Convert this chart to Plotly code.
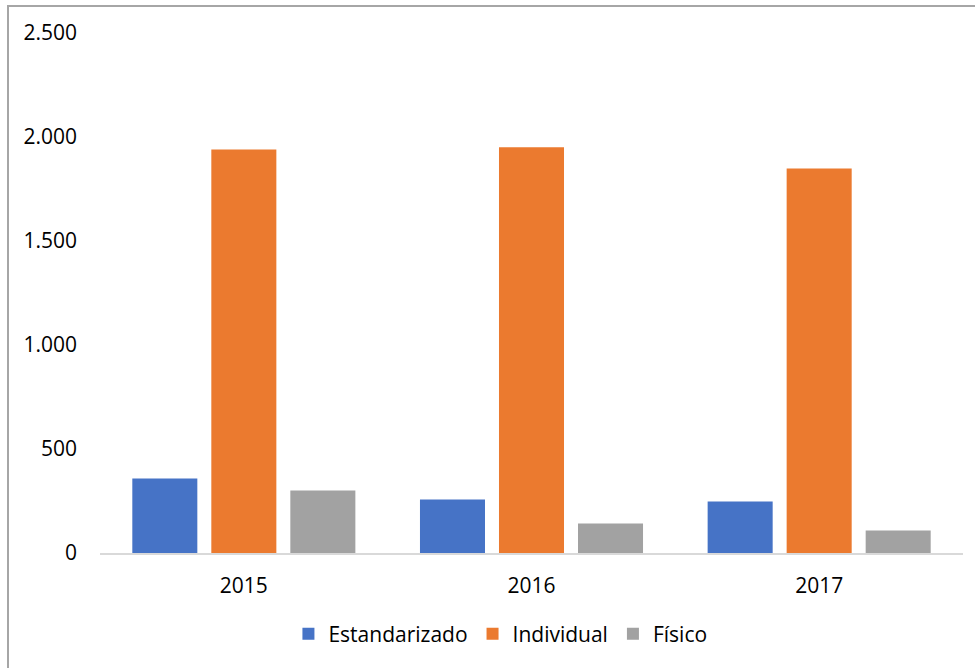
import plotly.graph_objects as go

years = ["2015", "2016", "2017"]
estandarizado = [358, 257, 248]
individual = [1940, 1951, 1849]
fisico = [300, 142, 108]

series = [
    ("Estandarizado", estandarizado, "#4673c6"),
    ("Individual", individual, "#eb7a2f"),
    ("Físico", fisico, "#a2a2a2"),
]

fig = go.Figure()
for name, vals, col in series:
    fig.add_trace(go.Bar(x=years, y=vals, name=name, marker=dict(color=col, line=dict(width=0))))

font = "Open Sans, Noto Sans, sans-serif"
fig.update_layout(
    width=975, height=668,
    margin=dict(l=100, r=12, t=33, b=115),
    paper_bgcolor="white", plot_bgcolor="white",
    barmode="group", bargap=0.176, bargroupgap=0.177,
    font=dict(family=font, size=21, color="#000000"),
    showlegend=True,
    legend=dict(orientation="h", x=0.464, xanchor="center", y=-0.156, yanchor="middle",
                font=dict(size=21, color="#000000"), itemclick=False),
    xaxis=dict(showline=True, linecolor="#d9d9d9", linewidth=2, ticks="",
               showgrid=False, zeroline=False, ticklabelstandoff=13,
               tickfont=dict(size=21)),
    yaxis=dict(range=[0, 2500], dtick=500, tickformat=",d", showgrid=False,
               zeroline=False, showline=False, ticks="", ticklabelstandoff=22,
               tickfont=dict(size=21)),
    separators=",.",
    shapes=[dict(type="rect", xref="paper", yref="paper",
                 x0=-0.1066, x1=1.03, y0=-0.25, y1=1.052,
                 line=dict(color="#a6a6a6", width=2), fillcolor="rgba(0,0,0,0)", layer="below")],
)

fig.write_html("out.html")
